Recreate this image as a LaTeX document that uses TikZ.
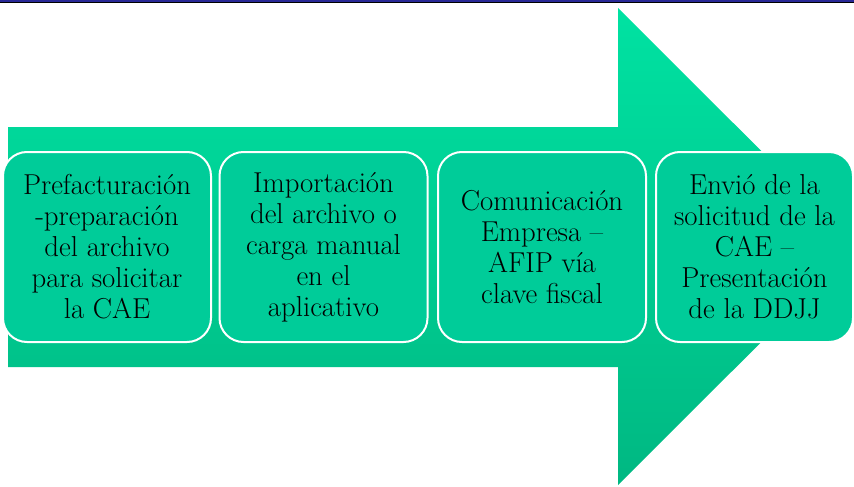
\documentclass[tikz,border=0pt]{standalone}
\usepackage{tikz}
\usetikzlibrary{positioning}

\definecolor{arrowtop}{RGB}{0,226,162}
\definecolor{arrowbottom}{RGB}{0,184,130}
\definecolor{boxfill}{RGB}{0,204,153}
\definecolor{rulenavy}{RGB}{40,40,150}

\tikzset{
  stepbox/.style={draw=white, line width=2pt, fill=boxfill, rounded corners=24pt,
    minimum width=208pt, minimum height=190pt, inner sep=2pt, align=center,
    font=\fontsize{28.8pt}{31pt}\selectfont},
}

\begin{document}
\begin{tikzpicture}[x=1pt,y=-1pt]
\useasboundingbox (0,0) rectangle (854,487);
\clip (0,0) rectangle (854,487);

% Top rule
\fill[rulenavy] (0,0) rectangle (854,2.5);
\draw[black,line width=0.8pt] (0,2.8) -- (854,2.8);

% Big arrow
\path[top color=arrowtop, bottom color=arrowbottom]
  (8,127) -- (618,127) -- (618,8) -- (857,246.5) -- (618,485) -- (618,367) -- (8,367) -- cycle;

% Steps
\node[stepbox] (prefact) at (107,247) {Prefacturación\\-preparación\\del archivo\\para solicitar\\la CAE};
\node[stepbox] (import) at (323.5,247) {Importación\\del archivo o\\carga manual\\en el\\aplicativo};
\node[stepbox] (comunic) at (542,247) {Comunicación\\Empresa --\\AFIP vía\\clave fiscal};
\node[stepbox, minimum width=197pt] (envio) at (754.5,247) {Envió de la\\solicitud de la\\CAE --\\Presentación\\de la DDJJ};
\end{tikzpicture}
\end{document}
